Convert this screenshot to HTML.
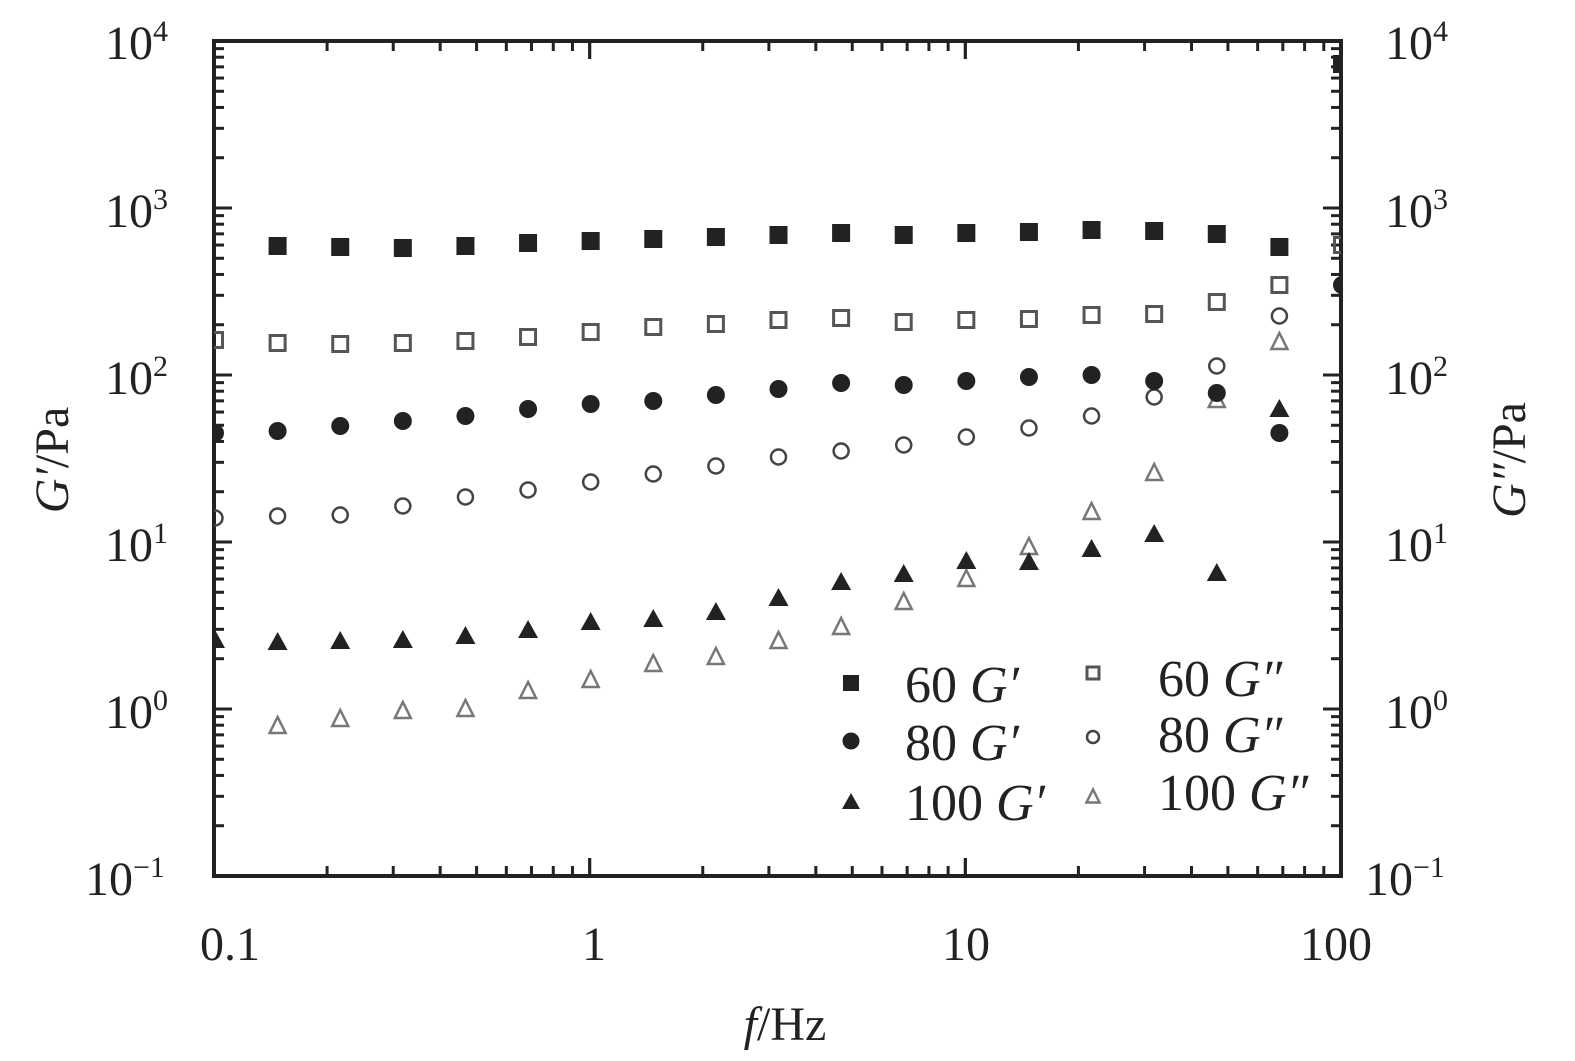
<!DOCTYPE html>
<html><head><meta charset="utf-8"><style>
html,body{margin:0;padding:0;background:#fff}
svg{display:block}
text{font-family:"Liberation Serif",serif;fill:#222}
</style></head><body>
<svg id="s" width="1575" height="1061" xmlns="http://www.w3.org/2000/svg">
<g id="ticks" stroke="#222" stroke-width="3"></g>
<rect x="214" y="41" width="1127" height="835" fill="none" stroke="#222" stroke-width="4"/>
<g id="pts"></g>
<g font-size="48">
<text x="105" y="59">10<tspan font-size="30" dy="-18">4</tspan></text>
<text x="105" y="227">10<tspan font-size="30" dy="-18">3</tspan></text>
<text x="105" y="394">10<tspan font-size="30" dy="-18">2</tspan></text>
<text x="105" y="561">10<tspan font-size="30" dy="-18">1</tspan></text>
<text x="105" y="728">10<tspan font-size="30" dy="-18">0</tspan></text>
<text x="85" y="895">10<tspan font-size="30" dy="-18">−1</tspan></text>
<text x="1385" y="59">10<tspan font-size="30" dy="-18">4</tspan></text>
<text x="1385" y="227">10<tspan font-size="30" dy="-18">3</tspan></text>
<text x="1385" y="394">10<tspan font-size="30" dy="-18">2</tspan></text>
<text x="1385" y="561">10<tspan font-size="30" dy="-18">1</tspan></text>
<text x="1385" y="728">10<tspan font-size="30" dy="-18">0</tspan></text>
<text x="1365" y="895">10<tspan font-size="30" dy="-18">−1</tspan></text>
<text x="230" y="960" text-anchor="middle">0.1</text>
<text x="594" y="960" text-anchor="middle">1</text>
<text x="966" y="960" text-anchor="middle">10</text>
<text x="1336" y="960" text-anchor="middle">100</text>
<text x="785" y="1040" text-anchor="middle"><tspan font-style="italic">f</tspan>/Hz</text>
<text transform="translate(68,460) rotate(-90)" text-anchor="middle"><tspan font-style="italic">G′</tspan>/Pa</text>
<text transform="translate(1525,460) rotate(-90)" text-anchor="middle"><tspan font-style="italic">G″</tspan>/Pa</text>
</g>
<g font-size="52">
<text x="905" y="702">60 <tspan font-style="italic">G′</tspan></text>
<text x="905" y="760">80 <tspan font-style="italic">G′</tspan></text>
<text x="905" y="820">100 <tspan font-style="italic">G′</tspan></text>
<text x="1158" y="696">60 <tspan font-style="italic">G″</tspan></text>
<text x="1158" y="752">80 <tspan font-style="italic">G″</tspan></text>
<text x="1158" y="810">100 <tspan font-style="italic">G″</tspan></text>
</g>
<g id="leg"></g>
</svg>
<script>
var NS="http://www.w3.org/2000/svg";
function el(p,t,a){var e=document.createElementNS(NS,t);for(var k in a)e.setAttribute(k,a[k]);p.appendChild(e);return e;}
var tk=document.getElementById('ticks');
var L=214,R=1341,T=41,B=876,dx=(R-L)/3,dy=(B-T)/5;
for(var d=0;d<3;d++)for(var m=1;m<=10;m++){var x=L+(d+Math.log10(m))*dx;var len=(m==1||m==10)?18:10;
el(tk,'line',{x1:x,y1:B,x2:x,y2:B-len});el(tk,'line',{x1:x,y1:T,x2:x,y2:T+len});}
for(var d=0;d<5;d++)for(var m=1;m<=10;m++){var y=B-(d+Math.log10(m))*dy;var len=(m==1||m==10)?18:10;
el(tk,'line',{x1:L,y1:y,x2:L+len,y2:y});el(tk,'line',{x1:R,y1:y,x2:R-len,y2:y});}
var g=document.getElementById('pts');
function mk(p,type,x,y,s){var h=s/2;
if(type=='fs')el(p,'rect',{x:x-h,y:y-h,width:s,height:s,fill:'#222'});
if(type=='os')el(p,'rect',{x:x-h+1.5,y:y-h+1.5,width:s-3,height:s-3,fill:'none',stroke:'#555','stroke-width':3});
if(type=='fc')el(p,'circle',{cx:x,cy:y,r:h,fill:'#222'});
if(type=='oc')el(p,'circle',{cx:x,cy:y,r:h-1.5,fill:'none',stroke:'#444','stroke-width':2.5});
if(type=='ft')el(p,'polygon',{points:(x)+','+(y-h-1)+' '+(x-h-1)+','+(y+h-1)+' '+(x+h+1)+','+(y+h-1),fill:'#222'});
if(type=='ot')el(p,'polygon',{points:(x)+','+(y-h)+' '+(x-h+1)+','+(y+h-2)+' '+(x+h-1)+','+(y+h-2),fill:'none',stroke:'#777','stroke-width':2.5});
}
var xs=[];for(var i=0;i<19;i++)xs.push(L+i*dx/6+1);
var D={
fs:[null,246,247,248,246,243,241,239,237,235,233,235,233,232,230,231,234,247,64],
os:[340,343,344,343,341,337,332,327,324,320,318,322,320,319,315,314,302,285,245],
fc:[433,431,426,421,416,409,404,401,395,389,383,385,381,377,375,381,393,433,285],
oc:[518,516,515,506,497,490,482,474,466,457,451,445,437,428,416,397,366,316,null],
ft:[640,642,641,640,636,630,622,619,612,598,582,574,561,562,549,534,573,409,null],
ot:[null,726,719,711,709,691,680,664,657,641,627,602,579,547,512,473,400,342,null]};
var cp=el(document.getElementById('s'),'clipPath',{id:'c'});el(cp,'rect',{x:L,y:T,width:R-L,height:B-T});
g.setAttribute('clip-path','url(#c)');
['ot','oc','os','ft','fc','fs'].forEach(function(k){D[k].forEach(function(y,i){if(y!=null)mk(g,k,xs[i],y,18);});});
var lg=document.getElementById('leg');
mk(lg,'fs',851,683,16);mk(lg,'fc',851,741,17);mk(lg,'ft',851,802,16);
mk(lg,'os',1093,673,15);mk(lg,'oc',1093,737,15);mk(lg,'ot',1093,797,15);
</script>
</body></html>
